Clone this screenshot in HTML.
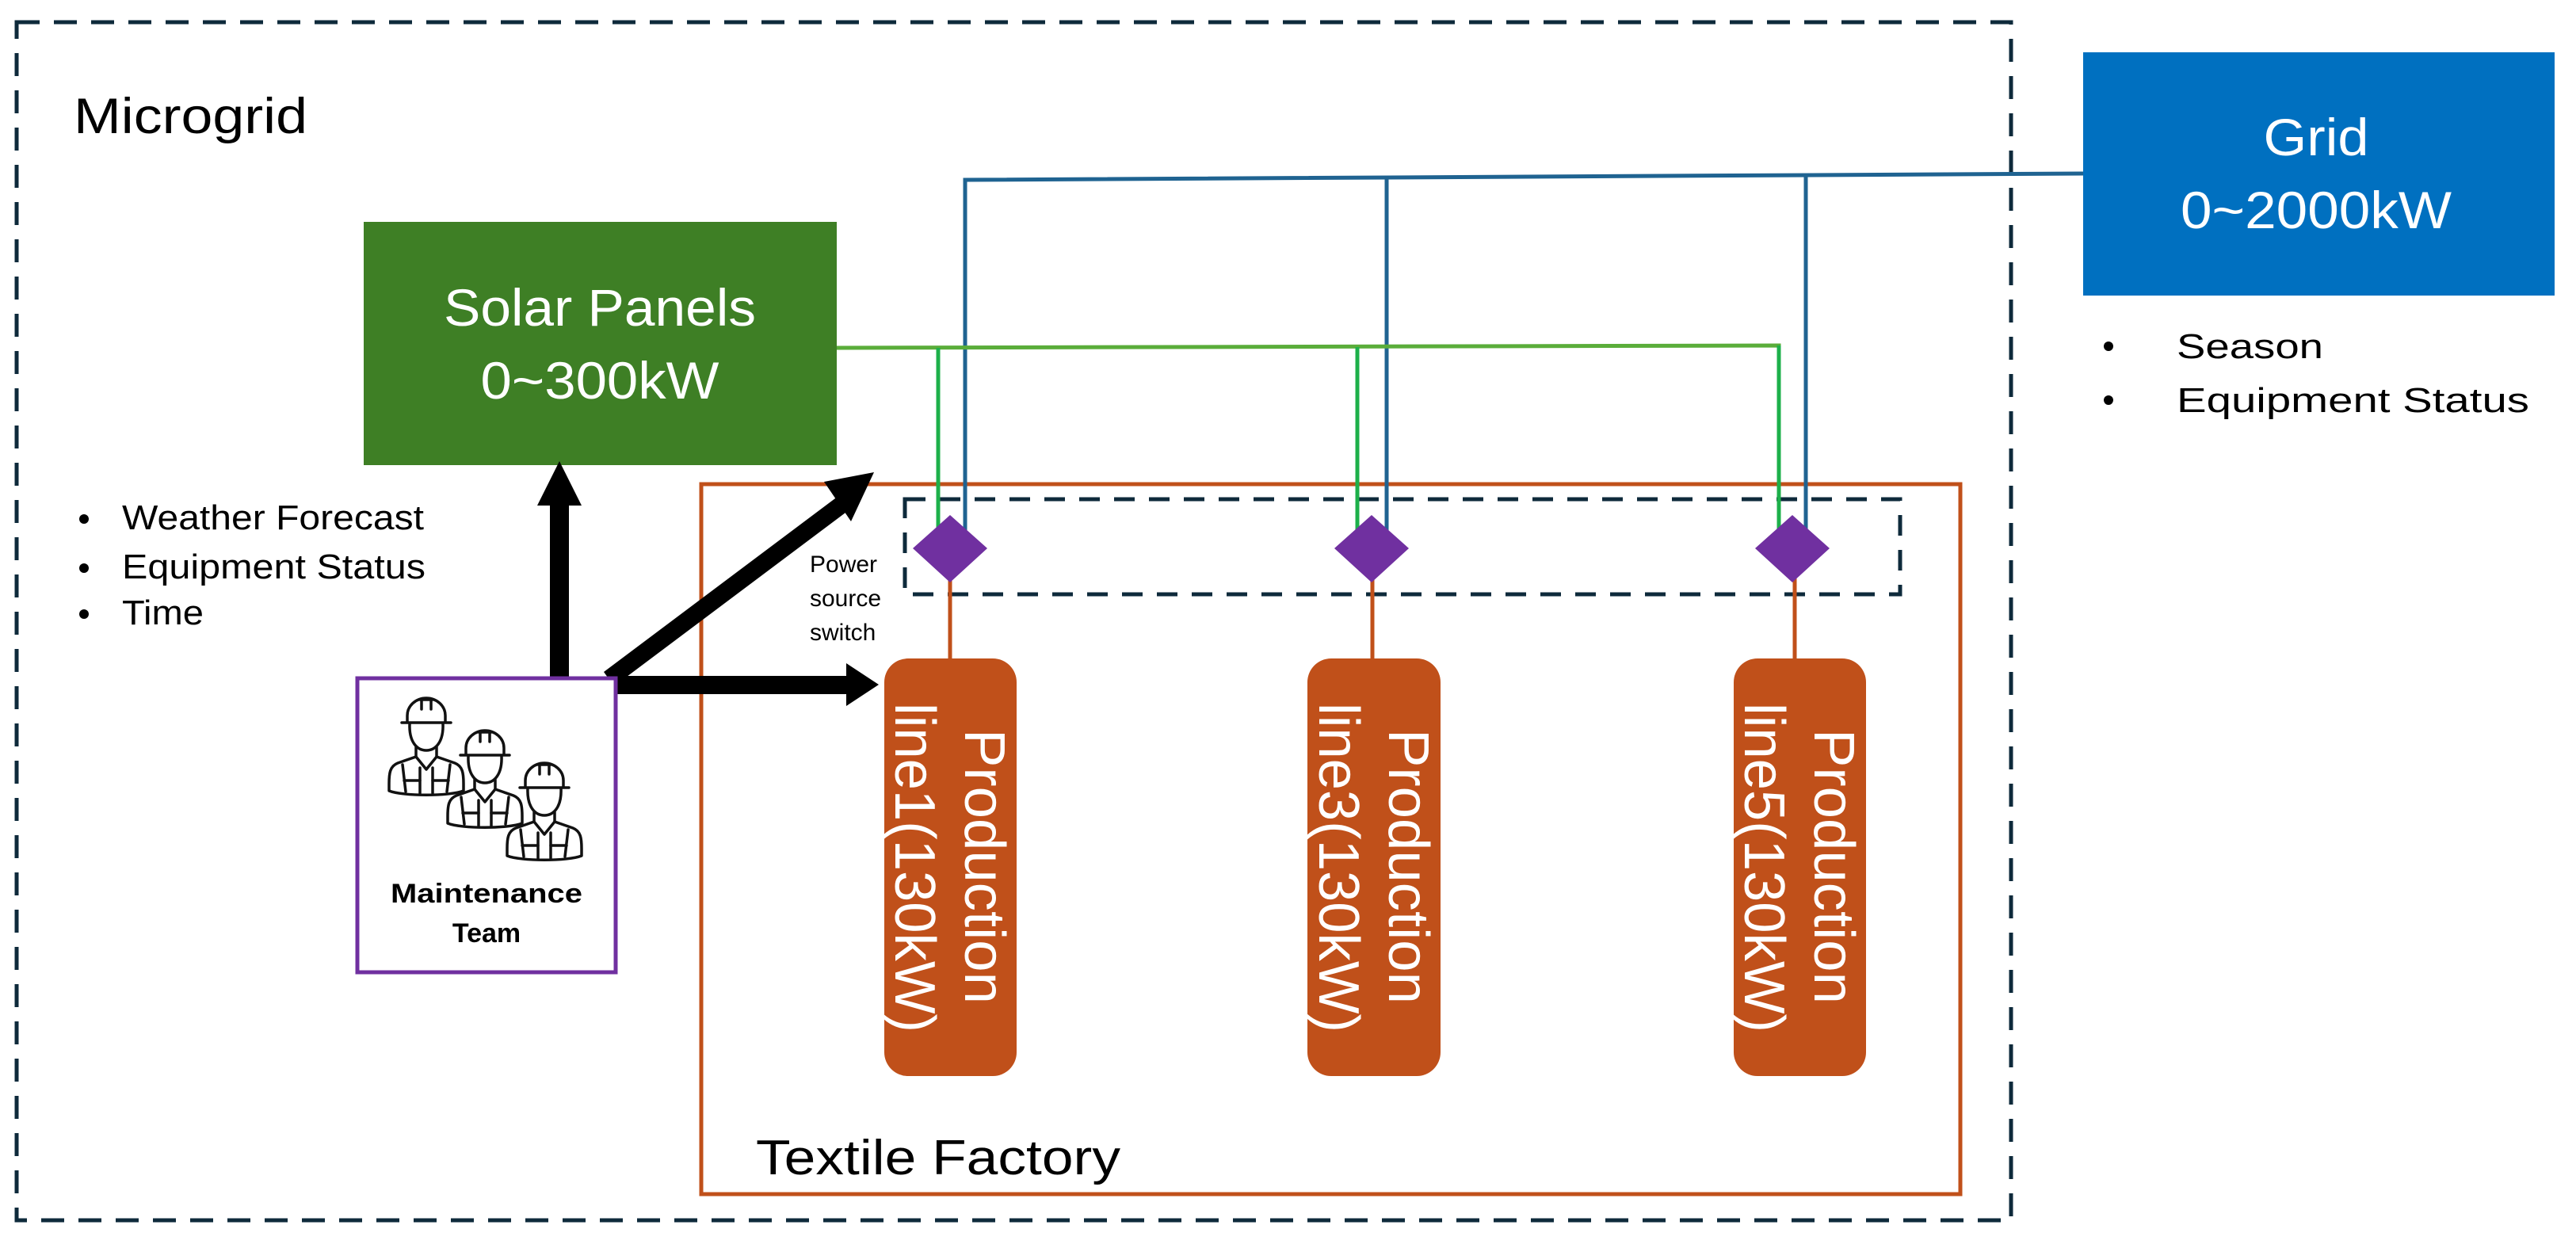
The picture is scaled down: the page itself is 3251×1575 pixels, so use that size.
<!DOCTYPE html>
<html><head><meta charset="utf-8"><style>html,body{margin:0;padding:0;background:#fff}svg{display:block}</style></head>
<body>
<svg width="3251" height="1575" viewBox="0 0 3251 1575" xmlns="http://www.w3.org/2000/svg" font-family="'Liberation Sans', sans-serif">
<defs>
<g id="worker" fill="none" stroke="#111" stroke-width="3.5" stroke-linejoin="round" stroke-linecap="round">
  <path d="M-24,30 L-24,22 A24,22 0 0 1 24,22 L24,30"/>
  <path d="M-6,3 L-6,14 M6,3 L6,14 M-8,2 L8,2"/>
  <line x1="-31" y1="31" x2="31" y2="31"/>
  <path d="M-21,32 C-22,55 -12,66 0,66 C12,66 22,55 21,32"/>
  <path d="M-13,62 L-13,74 L-36,82 C-46,86 -47,95 -47,108 L-47,117 C-30,124 30,124 47,117 L47,108 C47,95 46,86 36,82 L13,74 L13,62"/>
  <path d="M-13,74 L0,90 L13,74"/>
  <path d="M-30,84 L-26,118 M30,84 L26,118"/>
  <path d="M-28,104 L-8,104 M8,104 L28,104"/>
  <path d="M-8,88 L-8,120 M8,88 L8,120"/>
</g>
</defs>

<rect x="21" y="28" width="2517" height="1512" fill="none" stroke="#0e2a3b" stroke-width="5" stroke-dasharray="29,18"/>
<text x="93" y="168" font-size="63" fill="#000" textLength="295" lengthAdjust="spacingAndGlyphs">Microgrid</text>

<rect x="885" y="611" width="1589" height="896" fill="none" stroke="#c0501a" stroke-width="5"/>
<text x="954" y="1482" font-size="62" fill="#000" textLength="460" lengthAdjust="spacingAndGlyphs">Textile Factory</text>

<rect x="1142" y="630" width="1256" height="120" fill="none" stroke="#0e2a3b" stroke-width="5" stroke-dasharray="26,18"/>
<text font-size="30" fill="#000"><tspan x="1022" y="722">Power</tspan><tspan x="1022" y="765">source</tspan><tspan x="1022" y="808">switch</tspan></text>

<polyline points="1218,692 1218,227 2629,219" fill="none" stroke="#1f6391" stroke-width="5"/>
<line x1="1750" y1="225" x2="1750" y2="692" stroke="#1f6391" stroke-width="5"/>
<line x1="2279" y1="222" x2="2279" y2="692" stroke="#1f6391" stroke-width="5"/>
<polyline points="1056,439 2245,436 2245,692" fill="none" stroke="#5aad3a" stroke-width="5"/>
<line x1="1184" y1="439" x2="1184" y2="692" stroke="#1db04a" stroke-width="5"/>
<line x1="1713" y1="438" x2="1713" y2="692" stroke="#1db04a" stroke-width="5"/>
<line x1="2245" y1="436" x2="2245" y2="692" stroke="#1db04a" stroke-width="5"/>

<line x1="1199" y1="690" x2="1199" y2="835" stroke="#c0501a" stroke-width="5"/>
<line x1="1732" y1="690" x2="1732" y2="835" stroke="#c0501a" stroke-width="5"/>
<line x1="2265" y1="690" x2="2265" y2="835" stroke="#c0501a" stroke-width="5"/>

<polygon points="1199,650 1246,692 1199,735 1152,692" fill="#7030a0"/>
<polygon points="1731,650 1778,692 1731,735 1684,692" fill="#7030a0"/>
<polygon points="2262,650 2309,692 2262,735 2215,692" fill="#7030a0"/>

<rect x="459" y="280" width="597" height="307" fill="#3e7f25"/>
<text x="757" y="411" font-size="66" fill="#fff" text-anchor="middle" textLength="394" lengthAdjust="spacingAndGlyphs">Solar Panels</text>
<text x="757" y="503" font-size="66" fill="#fff" text-anchor="middle" textLength="301" lengthAdjust="spacingAndGlyphs">0~300kW</text>

<rect x="2629" y="66" width="595" height="307" fill="#0070c0"/>
<text x="2923" y="196" font-size="66" fill="#fff" text-anchor="middle" textLength="133" lengthAdjust="spacingAndGlyphs">Grid</text>
<text x="2923" y="288" font-size="66" fill="#fff" text-anchor="middle" textLength="342" lengthAdjust="spacingAndGlyphs">0~2000kW</text>

<g font-size="44" fill="#000">
<circle cx="106" cy="655" r="6"/><text x="154" y="668" textLength="381" lengthAdjust="spacingAndGlyphs">Weather Forecast</text>
<circle cx="106" cy="717" r="6"/><text x="154" y="730" textLength="383" lengthAdjust="spacingAndGlyphs">Equipment Status</text>
<circle cx="106" cy="775" r="6"/><text x="154" y="788" textLength="103" lengthAdjust="spacingAndGlyphs">Time</text>
<circle cx="2661" cy="437" r="6"/><text x="2747" y="452" textLength="185" lengthAdjust="spacingAndGlyphs">Season</text>
<circle cx="2661" cy="505" r="6"/><text x="2747" y="520" textLength="445" lengthAdjust="spacingAndGlyphs">Equipment Status</text>
</g>

<g fill="#c0501a">
<rect x="1116" y="831" width="167" height="527" rx="30"/>
<rect x="1650" y="831" width="168" height="527" rx="30"/>
<rect x="2188" y="831" width="167" height="527" rx="30"/>
</g>
<g font-size="72" fill="#fff">
<text transform="translate(1218,920) rotate(90)" textLength="347" lengthAdjust="spacingAndGlyphs">Production</text>
<text transform="translate(1130,887) rotate(90)" textLength="416" lengthAdjust="spacingAndGlyphs">line1(130kW)</text>
<text transform="translate(1753,920) rotate(90)" textLength="347" lengthAdjust="spacingAndGlyphs">Production</text>
<text transform="translate(1665,887) rotate(90)" textLength="416" lengthAdjust="spacingAndGlyphs">line3(130kW)</text>
<text transform="translate(2290,920) rotate(90)" textLength="347" lengthAdjust="spacingAndGlyphs">Production</text>
<text transform="translate(2202,887) rotate(90)" textLength="416" lengthAdjust="spacingAndGlyphs">line5(130kW)</text>
</g>

<g fill="#000">
<rect x="694" y="630" width="24" height="226"/>
<polygon points="706,582 734,638 678,638"/>
<rect x="779" y="853" width="295" height="23"/>
<polygon points="1109,864 1068,837 1068,891"/>
<polygon points="762,848 1062,623 1075,641 775,866"/>
<polygon points="1103,596 1040,608 1074,658"/>
</g>

<rect x="451" y="856" width="326" height="371" fill="#fff" stroke="#7030a0" stroke-width="5"/>
<use href="#worker" x="538" y="881"/>
<use href="#worker" x="612" y="922"/>
<use href="#worker" x="687" y="963"/>
<text x="614" y="1139" font-size="34" font-weight="bold" text-anchor="middle" fill="#000" textLength="242" lengthAdjust="spacingAndGlyphs">Maintenance</text>
<text x="614" y="1189" font-size="34" font-weight="bold" text-anchor="middle" fill="#000">Team</text>
</svg>
</body></html>
